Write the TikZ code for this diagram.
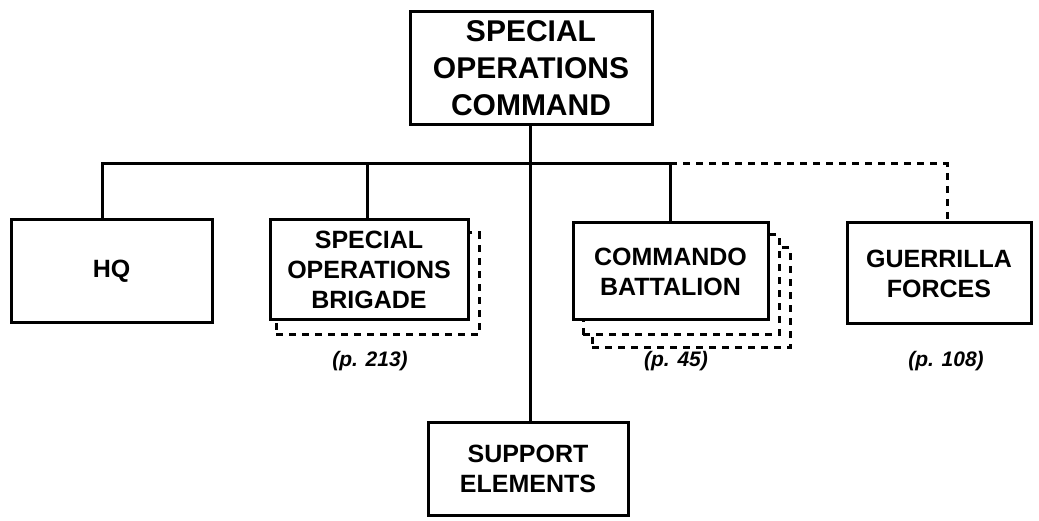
\documentclass[tikz,border=0pt]{standalone}
\usepackage{fontspec}
\setmainfont{Liberation Sans}
\begin{document}
\begin{tikzpicture}[x=1pt,y=-1pt,
  unitbox/.style={draw,line width=3pt,fill=white,rectangle,inner sep=0pt,align=center,
    font=\bfseries\fontsize{25}{30}\selectfont},
  shadowbox/.style={draw,line width=3pt,fill=white,rectangle,inner sep=0pt,
    dash pattern=on 7pt off 6pt},
  link/.style={line width=3pt},
  dlink/.style={line width=3pt,dash pattern=on 7pt off 6pt},
  pagelabel/.style={font=\bfseries\itshape\fontsize{21}{24}\selectfont,inner sep=0pt}]
\useasboundingbox (0,0) rectangle (1039,521);
% top
\node[unitbox,minimum width=242pt,minimum height=113pt,font=\bfseries\fontsize{30}{37}\selectfont]
  (soc) at (531,68.5) {SPECIAL\\OPERATIONS\\COMMAND};
% HQ
\node[unitbox,minimum width=201pt,minimum height=103pt] (hq) at (111.5,271.5) {HQ};
% brigade
\node[shadowbox,minimum width=203pt,minimum height=102pt] (brs) at (377.5,284) {};
\node[unitbox,minimum width=198pt,minimum height=100pt] (br) at (369,270) {SPECIAL\\OPERATIONS\\BRIGADE};
% commando
\node[shadowbox,minimum width=198pt,minimum height=100pt] (cbs2) at (691,298) {};
\node[shadowbox,minimum width=196pt,minimum height=100pt] (cbs1) at (681,285) {};
\node[unitbox,minimum width=195pt,minimum height=97pt] (cb) at (670.5,271.5) {COMMANDO\\BATTALION};
% guerrilla
\node[unitbox,minimum width=184pt,minimum height=101pt] (gf) at (939,273.5) {GUERRILLA\\FORCES};
% support
\node[unitbox,minimum width=200pt,minimum height=93pt] (se) at (528,468.5) {SUPPORT\\ELEMENTS};
% labels
\node[pagelabel] (l1) at (370,361) {(p. 213)};
\node[pagelabel] (l2) at (676,361) {(p. 45)};
\node[pagelabel] (l3) at (946,361) {(p. 108)};
% bus
\coordinate (bhq) at (102,164);
\coordinate (bbr) at (367,164);
\coordinate (bsoc) at (530,164);
\coordinate (bcb) at (670,164);
\coordinate (bgf) at (947,164);
\draw[link] (soc.south -| bsoc) -- (se.north -| bsoc);
\draw[link] (bhq |- hq.north) -- (bhq) -- (bcb) -- (bcb |- cb.north);
\draw[link] (bbr) -- (bbr |- br.north);
\draw[dlink] (bcb) -- (bgf) -- (bgf |- gf.north);
\end{tikzpicture}
\end{document}
